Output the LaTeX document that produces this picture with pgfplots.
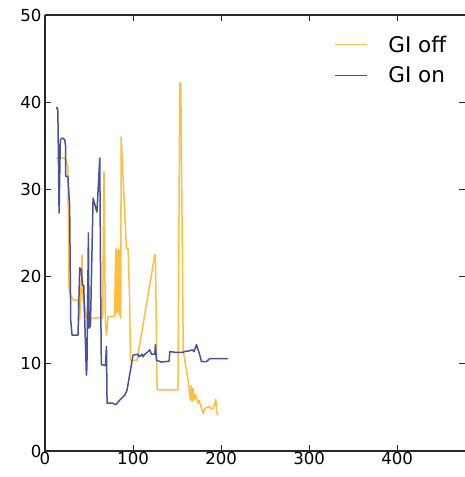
\documentclass[border=0pt]{standalone}
\usepackage{pgfplots}
\pgfplotsset{compat=1.18}
\usepackage{fontspec}
\setmainfont{DejaVu Sans}
\definecolor{gioff}{RGB}{255,190,64}
\definecolor{gion}{RGB}{72,82,152}
\definecolor{spine}{RGB}{40,40,40}
\begin{document}
\begin{tikzpicture}
\useasboundingbox (-45pt,-26pt) rectangle (420pt,451pt);
\begin{axis}[name=ax, at={(0pt,0pt)}, anchor=origin,
  scale only axis, width=420pt, height=436pt,
  xmin=0, xmax=477, ymin=0, ymax=50,
  xtick={0,100,...,400}, ytick={0,10,...,50},
  tick align=inside, major tick length=6pt,
  tick style={spine, line width=0.7pt},
  axis line style={draw=none},
  ticklabel style={font=\fontsize{16.6}{20}\selectfont},
  /pgf/number format/assume math mode=true,
  xticklabel style={yshift=2pt},
  legend style={draw=none, fill=none, at={(rel axis cs:0.68,0.962)}, anchor=north west,
    font=\fontsize{21.5}{26}\selectfont, row sep=9pt,
    nodes={inner xsep=12pt}},
  legend cell align=left,
  legend image code/.code={\draw[#1, line width=1.6pt] (0pt,0pt)--(32pt,0pt); \path (41pt,0pt);},
  every axis plot/.append style={line width=1.5pt, line join=round},
]
\addplot[gioff] coordinates {
(13,33.6) (22.4,33.6) (24.3,33.2) (26,32.6) (27.3,18.5) (29,18.0) (31.8,17.3) (37.5,17.3)
(39.4,15.0) (40.5,17.5) (42.1,22.5) (43,17.3) (44,17.3) (45,15.5) (46,16.5) (47,15.2)
(50.8,15.2) (64,15.3) (65.5,15.3) (67,32.0) (68.5,15) (69.8,13.3) (71.6,15.4) (79,15.4)
(80.3,23.2) (81,15.8) (81.8,23.0) (82.5,16) (83.3,23.2) (84.2,15.6) (85,23.0) (86,15.2)
(86.5,36.0) (92.5,23.2) (94.3,23.2) (95.5,19.4) (96.2,17.0) (97,10.4) (100,10.4) (104.5,10.4)
(124.7,22.5) (125.4,22.5) (127.3,7.0) (151,7.0) (153.1,42.2) (154.2,42.2) (157,11.5)
(162.5,8.1) (165.2,5.85) (166,7.5) (167,5.7) (168.2,7.2) (169.3,5.85) (171,6.5) (173.9,5.47)
(175,5.8) (177.7,4.9) (179.5,4.3) (181.5,4.9) (184,5.0) (187.2,5.1) (189,4.8) (191,4.9)
(194,5.9) (194.8,4.5) (196.6,4.1)
};
\addlegendentry{GI off}
\addplot[gion] coordinates {
(13,39.2) (13.8,39.4) (14.6,39.0) (16,27.3) (17.4,35.7) (19.7,35.9) (22.4,35.7) (23.5,34.9)
(23.5,31.5) (26,31.5) (28,28.0) (29.2,15.0) (30.7,13.3) (37.5,13.3) (39.4,21.0) (41.3,20.8)
(42.5,19.0) (44,19.0) (45,15.5) (47,8.7) (47.6,9.5) (49.3,25.0) (50,14.1) (51.6,14.3)
(54.6,29.0) (59,27.4) (62.2,33.6) (63.5,15) (64,9.9) (68.6,9.8) (69.8,12.0) (70.5,5.47)
(73.5,5.5) (76.5,5.5) (80.3,5.3) (85,5.85) (90.6,6.4) (93.2,7.0) (100,11.0) (105.7,11.1)
(106.8,10.8) (110.2,11.1) (111.3,10.8) (113.3,11.1) (116,11.3) (119,11.6) (120.9,11.1)
(124.7,11.1) (125.4,12.2) (126.6,10.4) (132.3,10.2) (141,10.3) (141.7,11.4) (149.3,11.3)
(156.8,11.3) (158,11.4) (164.4,11.5) (167.5,11.6) (169.3,11.4) (172,12.2) (175.8,11.0)
(177.7,10.25) (183.4,10.25) (187.2,10.6) (208,10.6)
};
\addlegendentry{GI on}
\end{axis}
\draw[spine, line width=1.2pt] (ax.north west)--(ax.south west)--(ax.south east);
\draw[spine, line width=1.2pt] (ax.north west)--(ax.north east);
\end{tikzpicture}
\end{document}
